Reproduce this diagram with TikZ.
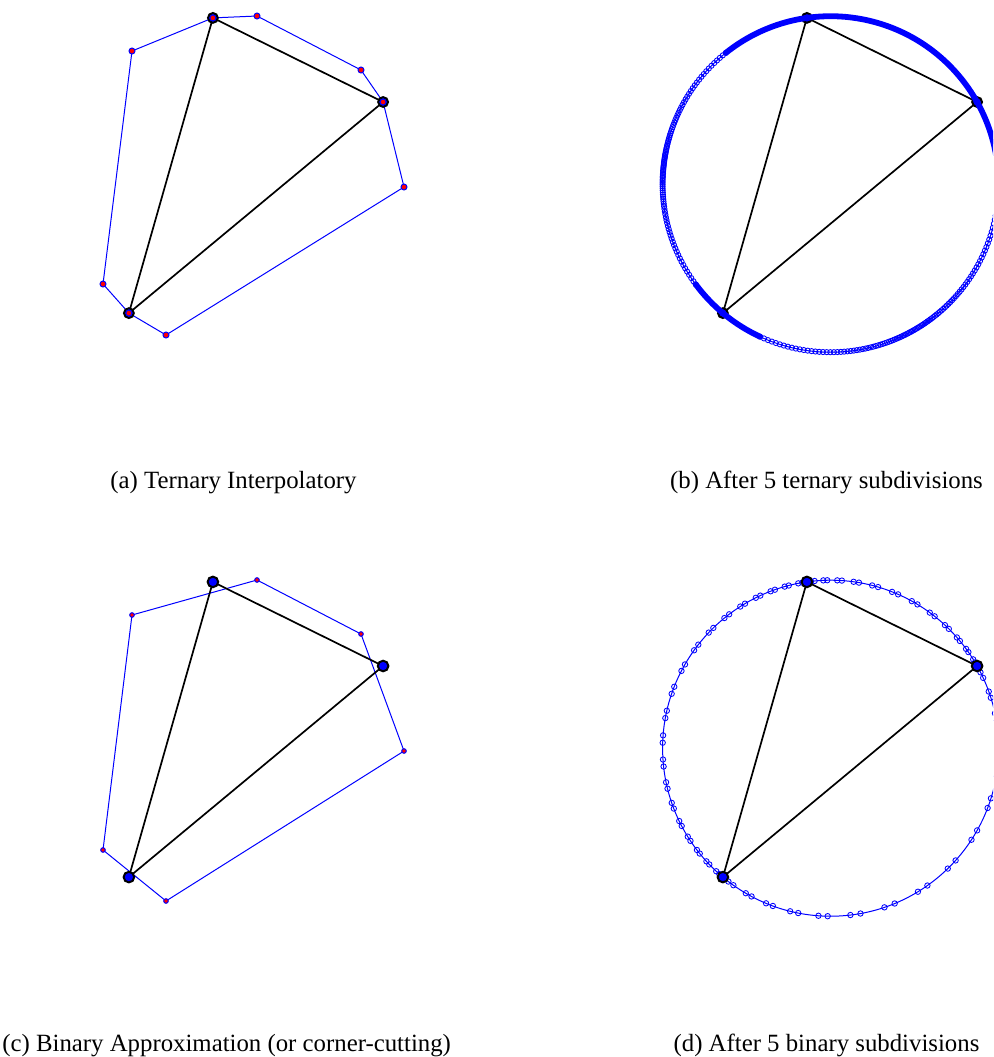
\documentclass[tikz,border=0pt]{standalone}
\usepackage{fontspec}
\setmainfont{Liberation Serif}
\begin{document}
\begin{tikzpicture}[x=0.5pt,y=-0.5pt,
  tri/.style={draw=black,line width=0.85pt,line join=round},
  poly/.style={draw=blue,line width=0.5pt},
  bigv/.style={fill=blue,draw=black,line width=1pt},
  redpt/.style={fill=red,draw=blue,line width=0.5pt},
  omark/.style={draw=blue,line width=0.42pt},
  band/.style={draw=blue,line width=2.9pt,line cap=round},
  captxt/.style={font=\fontsize{12.4}{14}\selectfont,inner sep=0pt,anchor=base}]
\useasboundingbox (0,0) rectangle (993,1057);
\begin{scope}
\clip (0,0) rectangle (993,1057);
% ---------- panel (a)
\begin{scope}
\coordinate (aA) at (212.9,17.9);
\coordinate (aB) at (383.1,102.0);
\coordinate (aC) at (128.9,313.1);
\coordinate (aP1) at (257,16);
\coordinate (aP2) at (361,70);
\coordinate (aP3) at (404,187);
\coordinate (aP4) at (166,335);
\coordinate (aP5) at (103,284);
\coordinate (aP6) at (132,51);
\draw[poly] (aA) -- (aP1) -- (aP2) -- (aB) -- (aP3) -- (aP4) -- (aC) -- (aP5) -- (aP6) -- cycle;
\draw[tri] (aA) -- (aB) -- (aC) -- cycle;
\foreach \v in {aA,aB,aC} \draw[bigv] (\v) circle[radius=4.9];
\foreach \v in {aA,aP1,aP2,aB,aP3,aP4,aC,aP5,aP6} \draw[redpt] (\v) circle[radius=3];
\end{scope}
% ---------- panel (b)
\begin{scope}[shift={(594,0)}]
\coordinate (bO) at (236.6,184.2);
\coordinate (bA) at (212.9,17.9);
\coordinate (bB) at (383.1,102.0);
\coordinate (bC) at (128.9,313.1);
\draw[poly] (bO) circle[radius=168];
\draw[tri] (bA) -- (bB) -- (bC) -- cycle;
\foreach \v in {bA,bB,bC} \draw[bigv] (\v) circle[radius=4.9];
\foreach \i in {0,...,100}{
  \pgfmathsetmacro\ang{143.4+88*(\i/100+0.5*sin(3.6*\i)/(2*pi))}
  \draw[omark] (bO) ++(\ang:168) circle[radius=2.6];
}
\foreach \i in {0,...,110}{
  \pgfmathsetmacro\ang{5+109.8*(\i/110+0.45*sin(3.2727*\i)/(2*pi))}
  \draw[omark] (bO) ++(\ang:168) circle[radius=2.6];
}
\draw[band] (bO) ++(-128.6:168) arc[start angle=-128.6,end angle=5,radius=168];
\draw[band] (bO) ++(114.8:168) arc[start angle=114.8,end angle=143.4,radius=168];
\end{scope}
% ---------- panel (c)
\begin{scope}[shift={(0,564)}]
\coordinate (cA) at (212.9,17.9);
\coordinate (cB) at (383.1,102.0);
\coordinate (cC) at (128.9,313.1);
\coordinate (cP1) at (257,16);
\coordinate (cP2) at (361,70);
\coordinate (cP3) at (404,187);
\coordinate (cP4) at (166,337);
\coordinate (cP5) at (103,286);
\coordinate (cP6) at (132,51);
\draw[poly] (cP1) -- (cP2) -- (cP3) -- (cP4) -- (cP5) -- (cP6) -- cycle;
\draw[tri] (cA) -- (cB) -- (cC) -- cycle;
\foreach \v in {cA,cB,cC} \draw[bigv] (\v) circle[radius=5.3];
\foreach \v in {cP1,cP2,cP3,cP4,cP5,cP6} \draw[redpt] (\v) circle[radius=2.3];
\end{scope}
% ---------- panel (d)
\begin{scope}[shift={(594,564)}]
\coordinate (dO) at (236.6,184.2);
\coordinate (dA) at (212.9,17.9);
\coordinate (dB) at (383.1,102.0);
\coordinate (dC) at (128.9,313.1);
\draw[poly] (dO) circle[radius=168];
\foreach \s/\d/\n in {-98.1/68.8/12, -29.3/159.2/16, 129.9/132/20}{
  \foreach \k in {1,...,\n}{
    \pgfmathsetmacro\tt{(\k-0.5)/\n}
    \pgfmathsetmacro\cc{\s+\d*(\tt-0.3*sin(360*\tt)/(2*pi))}
    \pgfmathsetmacro\hh{0.15*\d/\n*(1-0.3*cos(360*\tt))}
    \pgfmathsetmacro\aone{\cc-\hh}
    \pgfmathsetmacro\atwo{\cc+\hh}
    \draw[omark] (dO) ++(\aone:168) circle[radius=2.7];
    \draw[omark] (dO) ++(\atwo:168) circle[radius=2.7];
  }
}
\draw[tri] (dA) -- (dB) -- (dC) -- cycle;
\foreach \v in {dA,dB,dC} \draw[bigv] (\v) circle[radius=5.3];
\end{scope}
\end{scope}
% ---------- captions
\node[captxt] (capa) at (233.5,488) {(a) Ternary Interpolatory};
\node[captxt] (capb) at (826.5,488) {(b) After 5 ternary subdivisions};
\node[captxt,anchor=base west] (capc) at (2,1051) {(c) Binary Approximation (or corner-cutting)};
\node[captxt] (capd) at (826.5,1051) {(d) After 5 binary subdivisions};
\end{tikzpicture}
\end{document}
